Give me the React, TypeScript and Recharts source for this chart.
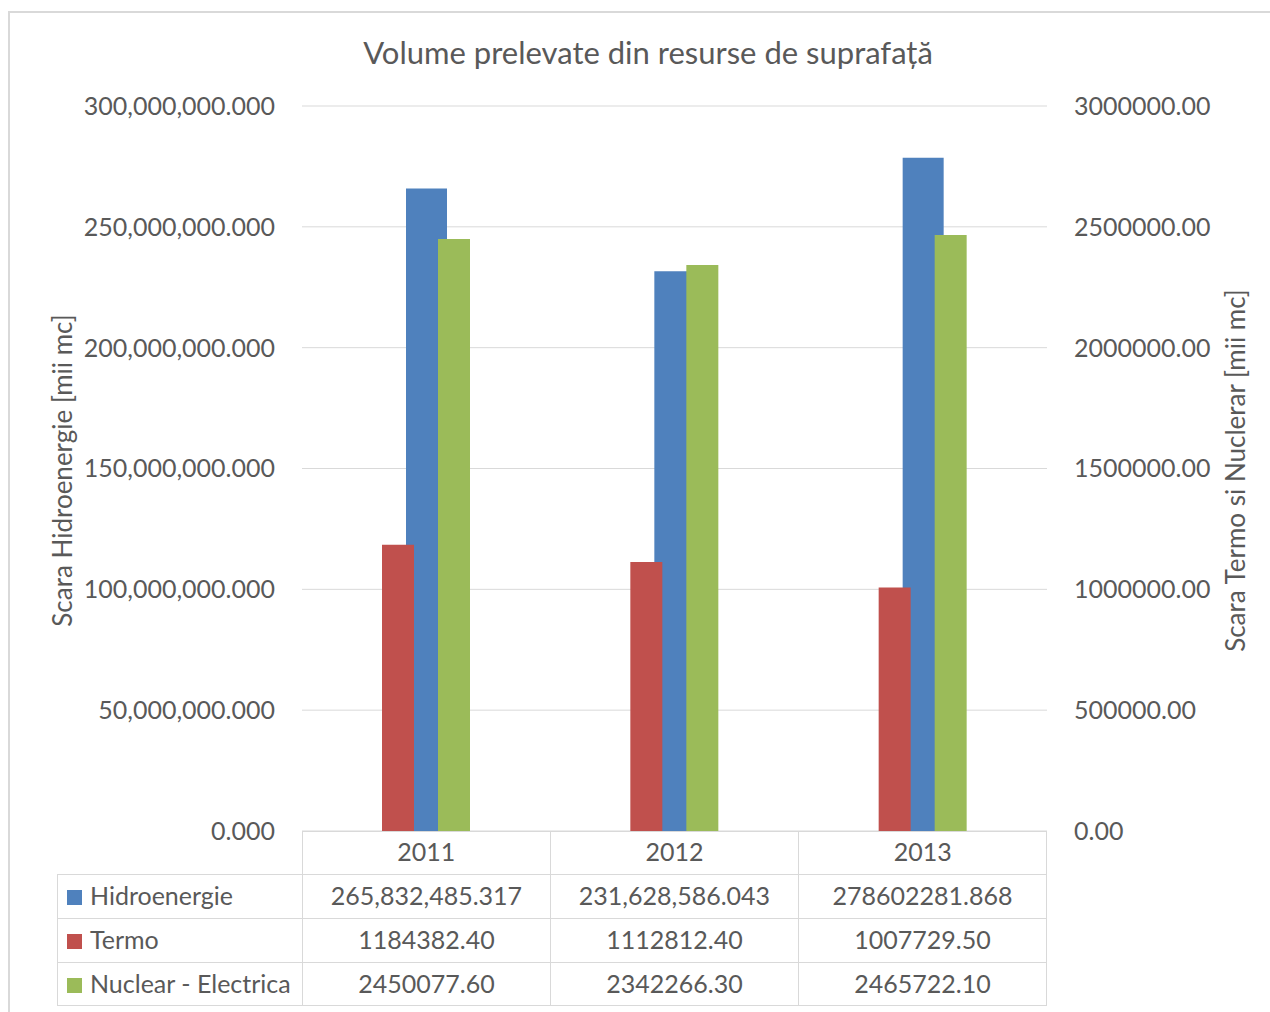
import { BarChart, Bar, XAxis, YAxis, CartesianGrid } from "recharts"
import type { CSSProperties } from "react"

const YEARS = ["2011", "2012", "2013"]
const HIDRO = [265832485.317, 231628586.043, 278602281.868]
const TERMO = [1184382.4, 1112812.4, 1007729.5]
const NUCLEAR = [2450077.6, 2342266.3, 2465722.1]

const LEFT_TICKS = [0, 50000000, 100000000, 150000000, 200000000, 250000000, 300000000]
const RIGHT_TICKS = [0, 500000, 1000000, 1500000, 2000000, 2500000, 3000000]

// cell texts as printed in the data table (mixed number formats in the source)
const HIDRO_TEXT = ["265,832,485.317", "231,628,586.043", "278602281.868"]
const TERMO_TEXT = ["1184382.40", "1112812.40", "1007729.50"]
const NUCLEAR_TEXT = ["2450077.60", "2342266.30", "2465722.10"]

const BLUE = "#4F81BD"
const RED = "#C0504D"
const GREEN = "#9BBB59"
const TEXT = "#595959"
const LINE = "#D9D9D9"
const FONT = "Lato, 'Open Sans', sans-serif"

const data = YEARS.map((year, i) => ({
	year,
	hidro: HIDRO[i],
	termo: TERMO[i],
	nuclear: NUCLEAR[i],
}))

const tableRows = [
	{ name: "Hidroenergie", color: BLUE, cells: HIDRO_TEXT, h: 44 },
	{ name: "Termo", color: RED, cells: TERMO_TEXT, h: 44 },
	{ name: "Nuclear - Electrica", color: GREEN, cells: NUCLEAR_TEXT, h: 43 },
]

const TICK = { fill: TEXT, fontSize: 25, fontFamily: FONT }

const fmtLeft = (v: number) =>
	v.toLocaleString("en-US", { minimumFractionDigits: 3, maximumFractionDigits: 3 })
const fmtRight = (v: number) => v.toFixed(2)

function axisTitle(text: string, dx: number) {
	return (props: { viewBox?: { x?: number; y?: number; width?: number; height?: number } }) => {
		const vb = props.viewBox ?? {}
		const cx = (vb.x ?? 0) + dx
		const cy = (vb.y ?? 106) + (vb.height ?? 725) / 2 + 2
		return (
			<text
				x={cx}
				y={cy}
				transform={`rotate(-90 ${cx} ${cy})`}
				textAnchor="middle"
				dominantBaseline="central"
				fill={TEXT}
				fontSize={26}
				fontFamily={FONT}
			>
				{text}
			</text>
		)
	}
}

const cellBase: CSSProperties = {
	border: `1px solid ${LINE}`,
	height: 43,
	padding: "0 0 3px 0",
	boxSizing: "border-box",
	textAlign: "center",
	verticalAlign: "middle",
	fontSize: 25,
	color: TEXT,
	fontFamily: FONT,
}

export default function App() {
	return (
		<div
			style={{
				position: "absolute",
				left: 0,
				top: 0,
				width: 1270,
				height: 1012,
				overflow: "hidden",
				background: "#fff",
			}}
		>
			<div
				style={{
					position: "absolute",
					left: 8,
					top: 11,
					width: 1300,
					height: 1100,
					border: `2px solid ${LINE}`,
				}}
			/>
			<div
				style={{
					position: "absolute",
					left: 0,
					width: 1296,
					top: 33,
					textAlign: "center",
					fontSize: 31,
					color: TEXT,
					fontFamily: FONT,
				}}
			>
				Volume prelevate din resurse de suprafață
			</div>
			<div style={{ position: "absolute", left: 0, top: 0 }}>
				<BarChart
					width={1270}
					height={1012}
					data={data}
					margin={{ top: 106, right: 0, bottom: 151, left: 0 }}
					barGap={24}
				>
					<XAxis xAxisId="hidro" dataKey="year" hide height={0} />
					<XAxis
						xAxisId="tr"
						dataKey="year"
						height={30}
						axisLine={false}
						tickLine={false}
						tickSize={0}
						tickMargin={12}
						tick={TICK}
					/>
					<YAxis
						yAxisId="left"
						orientation="left"
						width={302}
						domain={[0, 300000000]}
						ticks={LEFT_TICKS}
						tickFormatter={fmtLeft}
						axisLine={false}
						tickLine={false}
						tickSize={0}
						tickMargin={27}
						tick={TICK}
						label={{ content: axisTitle("Scara Hidroenergie [mii mc]", 62) }}
					/>
					<YAxis
						yAxisId="right"
						orientation="right"
						width={223}
						domain={[0, 3000000]}
						ticks={RIGHT_TICKS}
						tickFormatter={fmtRight}
						axisLine={false}
						tickLine={false}
						tickSize={0}
						tickMargin={27}
						tick={TICK}
						label={{ content: axisTitle("Scara Termo si Nuclerar [mii mc]", 188) }}
					/>
					<CartesianGrid
						xAxisId="hidro"
						yAxisId="left"
						vertical={false}
						stroke={LINE}
					/>
					<Bar
						xAxisId="hidro"
						yAxisId="left"
						dataKey="hidro"
						fill={BLUE}
						barSize={41}
						isAnimationActive={false}
					/>
					<Bar
						xAxisId="tr"
						yAxisId="right"
						dataKey="termo"
						fill={RED}
						barSize={32}
						isAnimationActive={false}
					/>
					<Bar
						xAxisId="tr"
						yAxisId="right"
						dataKey="nuclear"
						fill={GREEN}
						barSize={32}
						isAnimationActive={false}
					/>
				</BarChart>
			</div>
			<table
				style={{
					position: "absolute",
					left: 57,
					top: 831,
					borderCollapse: "collapse",
					tableLayout: "fixed",
				}}
			>
				<tbody>
					<tr>
						<td style={{ ...cellBase, width: 245, border: "none" }} />
						{YEARS.map((y) => (
							<td key={y} style={{ ...cellBase, width: 248 }} />
						))}
					</tr>
					{tableRows.map((row) => (
						<tr key={row.name}>
							<td
								style={{
									...cellBase,
									height: row.h,
									textAlign: "left",
									whiteSpace: "nowrap",
								}}
							>
								<span
									style={{
										display: "inline-block",
										width: 15,
										height: 15,
										background: row.color,
										marginLeft: 9,
										marginRight: 8,
									}}
								/>
								{row.name}
							</td>
							{row.cells.map((c, i) => (
								<td key={i} style={{ ...cellBase, height: row.h }}>
									{c}
								</td>
							))}
						</tr>
					))}
				</tbody>
			</table>
		</div>
	)
}
